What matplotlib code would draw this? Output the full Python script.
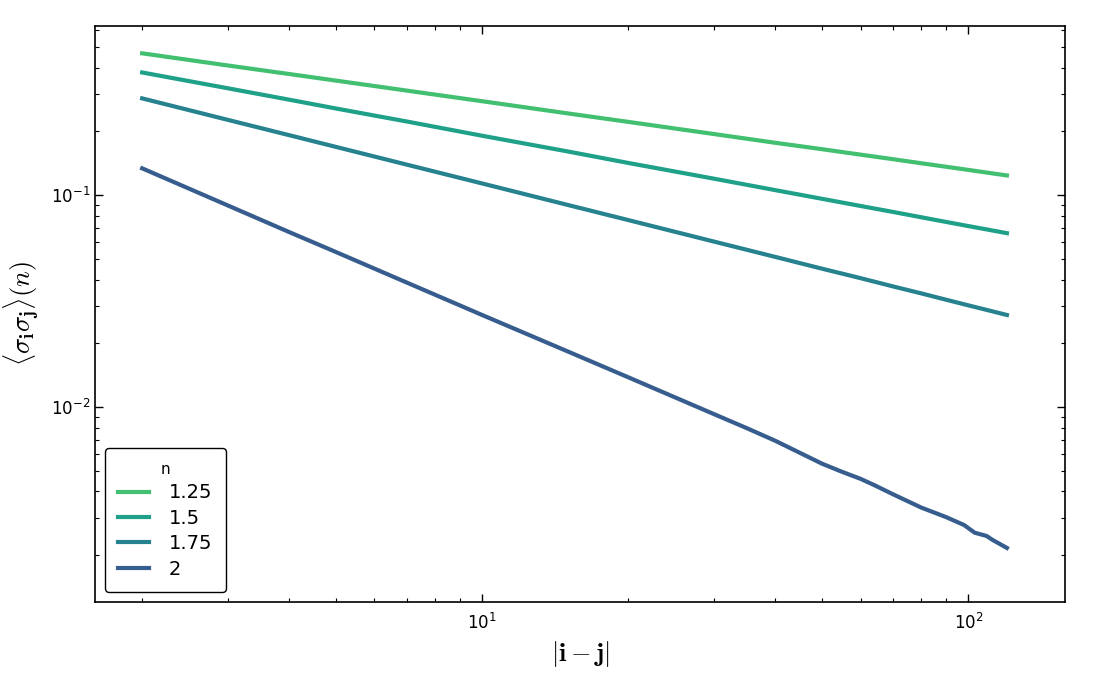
import matplotlib
matplotlib.use("Agg")
import matplotlib.pyplot as plt

# values (log-log correlation curves)
x_smooth = [2, 3, 4, 5, 7, 10, 15, 20, 30, 40, 50, 60, 70, 80, 90, 100, 110, 120]
y_125 = [0.468, 0.410, 0.374, 0.348, 0.312, 0.278, 0.2435, 0.222, 0.1945, 0.177,
         0.165, 0.1555, 0.148, 0.1416, 0.1363, 0.1317, 0.1276, 0.124]
y_150 = [0.380, 0.320, 0.283, 0.257, 0.223, 0.191, 0.161, 0.142, 0.1197, 0.1058,
         0.0962, 0.0890, 0.0834, 0.0787, 0.0748, 0.0715, 0.0687, 0.0662]
y_175 = [0.2867, 0.227, 0.1925, 0.1693, 0.1395, 0.1137, 0.0900, 0.0763, 0.0604, 0.0512,
         0.0450, 0.0406, 0.0371, 0.0344, 0.0321, 0.0302, 0.0286, 0.0272]

x_n2 = [2, 3, 4, 5, 7, 10, 15, 20, 30, 35, 40, 45, 50, 55, 60, 64, 70, 80, 90, 98, 103,
        109, 112, 120]
y_200 = [0.134, 0.0895, 0.0672, 0.0540, 0.0387, 0.0272, 0.0183, 0.0138, 0.00925, 0.00795,
         0.00694, 0.00608, 0.00540, 0.00494, 0.00458, 0.00428, 0.00387, 0.00335, 0.00302,
         0.00277, 0.00255, 0.00246, 0.00236, 0.00216]

labels = ["1.25", "1.5", "1.75", "2"]
colors = ["#43bf71", "#1fa088", "#26828e", "#365d8d"]

plt.rcParams["mathtext.fontset"] = "cm"
plt.rcParams["font.family"] = "DejaVu Sans"

fig = plt.figure(figsize=(11, 6.8), dpi=100)
ax = fig.add_axes([0.0864, 0.1147, 0.8818, 0.8471])

series = [(x_smooth, y_125), (x_smooth, y_150), (x_smooth, y_175), (x_n2, y_200)]
for (xs, ys), lab, col in zip(series, labels, colors):
    ax.plot(xs, ys, color=col, lw=3, label=lab)

ax.set_xscale("log")
ax.set_yscale("log")
ax.set_xlim(1.6, 158)
ax.set_ylim(0.0012, 0.63)

ax.tick_params(which="both", direction="in", top=True, right=True, labelsize=12)
ax.tick_params(which="major", length=6, width=1)
ax.tick_params(which="minor", length=3, width=0.8)
ax.tick_params(axis="x", pad=8)
for sp in ax.spines.values():
    sp.set_linewidth(1.2)

ax.set_xlabel(r"$|\mathbf{i}-\mathbf{j}|$", fontsize=19, labelpad=4)
ax.set_ylabel(r"$\langle\sigma_\mathbf{i}\sigma_\mathbf{j}\rangle(n)$", fontsize=19, labelpad=6)

leg = ax.legend(title="n", loc="lower left", fontsize=14, title_fontsize=11,
                fancybox=True, framealpha=1, edgecolor="black",
                handlelength=1.6, handletextpad=1.0, borderpad=0.7,
                labelspacing=0.33, borderaxespad=0.5, bbox_to_anchor=(0.0, 0.0))
leg.get_frame().set_linewidth(1.0)

fig.savefig("out.png", dpi=100, facecolor="white")
